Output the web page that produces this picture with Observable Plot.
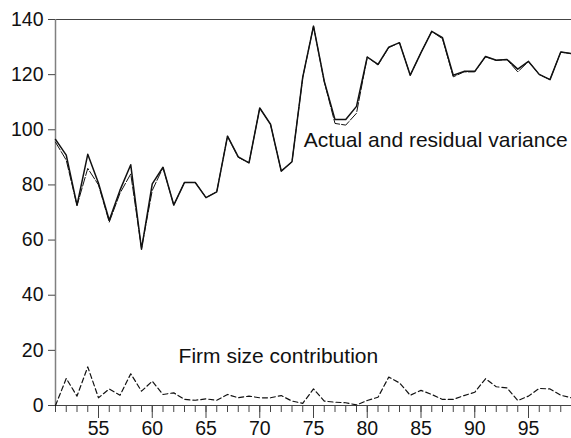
<!DOCTYPE html>
<html>
<head>
<meta charset="utf-8">
<script src="https://cdn.jsdelivr.net/npm/d3@7"></script>
<script src="https://cdn.jsdelivr.net/npm/@observablehq/plot@0.6"></script>
<style>
  html, body { margin: 0; padding: 0; background: #fff; }
  #chart svg { display: block; }
</style>
</head>
<body>
<div id="chart"></div>
<script>
const years = [51,52,53,54,55,56,57,58,59,60,61,62,63,64,65,66,67,68,69,70,71,72,73,74,75,76,77,78,79,80,81,82,83,84,85,86,87,88,89,90,91,92,93,94,95,96,97,98,99];
const actual = [96.5,90.8,72.7,91.1,80.6,67.2,78.1,87.3,56.7,80.4,86.4,72.7,80.9,80.9,75.4,77.5,97.7,90.2,88.0,107.9,102.0,85.0,88.4,119.1,137.6,117.6,103.7,103.7,108.5,126.4,123.7,130.0,131.6,119.8,128.0,135.7,133.4,119.8,121.2,121.2,126.6,125.2,125.5,122.0,124.8,120.1,118.2,128.2,127.6];
const residual = [95.5,89.0,72.5,86.0,80.0,66.5,77.0,84.0,57.0,78.0,86.3,72.7,80.9,80.9,75.4,77.5,97.7,90.0,88.0,107.9,102.0,85.0,88.4,119.0,137.6,117.4,102.3,101.7,106.0,126.4,123.5,129.8,131.6,119.8,128.0,135.7,133.0,119.2,121.0,121.0,126.5,125.2,125.5,121.0,124.8,120.0,118.2,128.2,127.6];
const firmSize = [0.0,9.8,3.4,14.0,2.8,6.0,3.7,11.5,5.2,8.8,4.0,4.6,2.2,1.9,2.4,1.9,4.0,2.8,3.4,2.8,2.8,3.6,1.6,0.8,6.0,1.6,1.2,1.0,0.2,1.8,3.0,10.3,8.2,3.7,5.5,4.0,2.2,2.2,3.6,4.8,9.7,6.8,6.4,1.8,3.4,6.2,6.0,3.7,2.8];
const yTicks = [0,20,40,60,80,100,120,140];
const xMajorTicks = [55,60,65,70,75,80,85,90,95];
const xMinorTicks = years;
const labelTexts = ["Actual and residual variance", "Firm size contribution"];
const labelX = [74.1, 62.45];
const labelY = [93.7, 15.3];

const rows = years.map((y, i) => ({year: y, actual: actual[i], residual: residual[i], firm: firmSize[i]}));
const labels = labelTexts.map((t, i) => ({text: t, x: labelX[i], y: labelY[i]}));

const chart = Plot.plot({
  width: 571,
  height: 438,
  marginLeft: 55,
  marginRight: 0,
  marginTop: 19,
  marginBottom: 33,
  style: {fontFamily: "'Liberation Sans', Arial, Helvetica, sans-serif", color: "#111", background: "#fff"},
  x: {domain: [51, 99], axis: null},
  y: {domain: [0, 140], axis: null},
  marks: [
    Plot.ruleY([140], {stroke: "#444", strokeWidth: 1.2}),
    Plot.ruleY([0], {stroke: "#444", strokeWidth: 1.2}),
    Plot.ruleX([51], {y1: 0, y2: 140, stroke: "#808080", strokeWidth: 1.5}),
    Plot.axisY(yTicks, {anchor: "left", tickSize: 7, tickPadding: 5, fontSize: 19.5, stroke: "#444", fill: "#111", label: null}),
    Plot.axisX(xMinorTicks, {anchor: "bottom", tickSize: 7, tickFormat: () => "", stroke: "#444", label: null}),
    Plot.axisX(xMajorTicks, {anchor: "bottom", tickSize: 13, tickPadding: 3, fontSize: 19.5, stroke: "#444", fill: "#111", label: null}),
    Plot.line(rows, {x: "year", y: "residual", stroke: "#111", strokeWidth: 1, strokeDasharray: "9,2"}),
    Plot.line(rows, {x: "year", y: "actual", stroke: "#111", strokeWidth: 1.5}),
    Plot.line(rows, {x: "year", y: "firm", stroke: "#111", strokeWidth: 1.2, strokeDasharray: "5,3"}),
    Plot.text(labels, {x: "x", y: "y", text: "text", textAnchor: "start", lineAnchor: "bottom", fontSize: 21, fill: "#111"})
  ]
});
document.getElementById("chart").appendChild(chart);
</script>
</body>
</html>
